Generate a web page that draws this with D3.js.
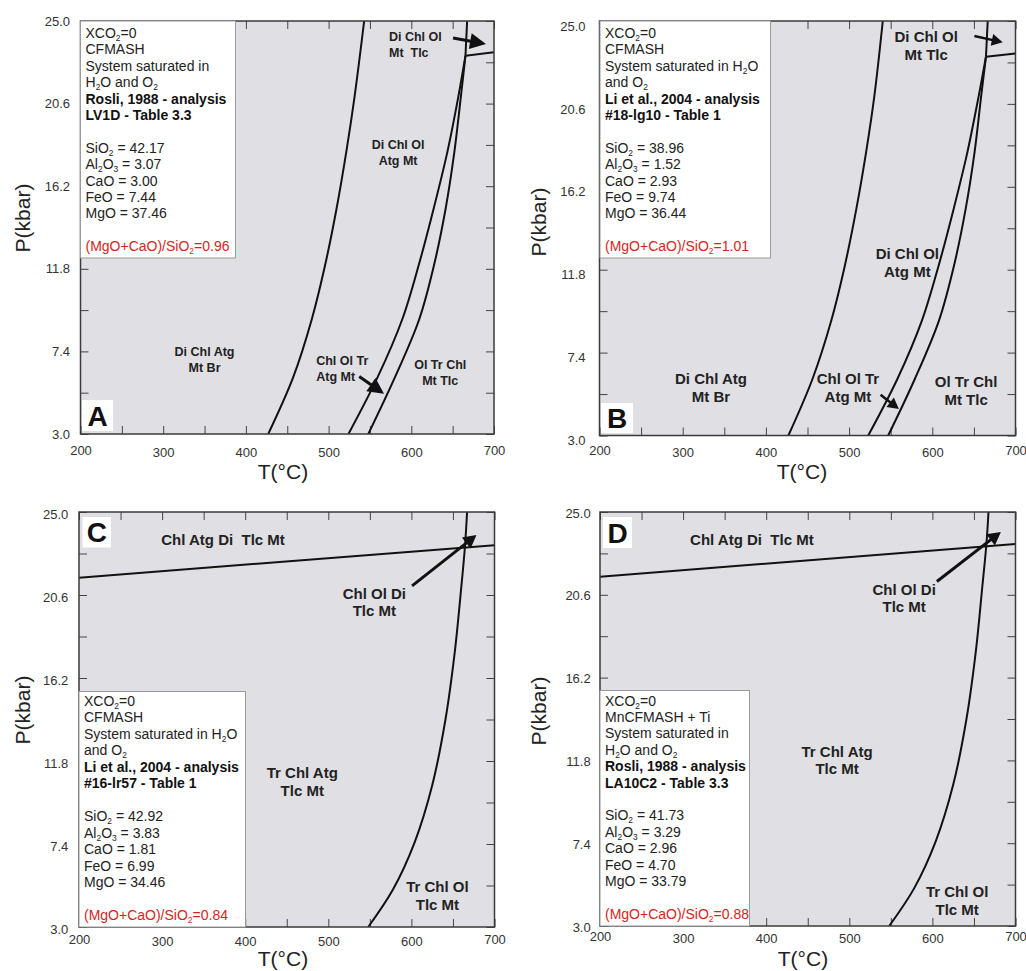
<!DOCTYPE html>
<html><head><meta charset="utf-8">
<script src="https://cdn.jsdelivr.net/npm/d3@7"></script>
<style>
body{margin:0;background:#fff;}
svg{display:block;}
text{font-family:"Liberation Sans",Arial,Helvetica,sans-serif;}
</style>
</head><body>
<svg id="chart" width="1026" height="971"></svg>
<script>
// ---------------- DATA ----------------
const tempTicks = [200, 300, 400, 500, 600, 700];
const tempMinor = [250, 350, 450, 550, 650];
const pressTicks = [3.0, 7.4, 11.8, 16.2, 20.6, 25.0];
const pressMinor = [5.2, 9.6, 14.0, 18.4, 22.8];
const oxideNames = ["SiO_2", "Al_2O_3", "CaO", "FeO", "MgO"];

// Panel A (T °C, P kbar)
const curveA1 = [[427,3],[457,6],[479.6,9.1],[495.8,12],[509.6,15],[521.3,18],[531.5,21],[543,25]];
const curveA2 = [[524,3],[559,6],[589,9.1],[609,12],[627,15],[643.5,18],[657,21],[665.5,23.15]];
const curveA3 = [[548,3],[580,6],[609.5,9.1],[627.5,12],[641.5,15],[652,18],[660,21],[665.5,23.15]];
const curveA4 = [[665.5,23.15],[667.5,25]];
const lineA = [[665.5,23.15],[700,23.33]];
const headerA = ["XCO_2=0","CFMASH","System saturated in","H_2O and O_2"];
const sourceA = ["Rosli, 1988 - analysis","LV1D - Table 3.3"];
const compA = [42.17, 3.07, 3.00, 7.44, 37.46];
const ratioA = 0.96;
const labelsA = [
  {lines:["Di Chl Ol","Mt  Tlc"], T:573, P:24.15, anchor:"start"},
  {lines:["Di Chl Ol","Atg Mt"], T:584, P:18.43, anchor:"middle"},
  {lines:["Di Chl Atg","Mt Br"], T:350, P:7.38, anchor:"middle"},
  {lines:["Chl Ol Tr","Atg Mt"], T:485, P:6.9, anchor:"start"},
  {lines:["Ol Tr Chl","Mt Tlc"], T:635, P:6.68, anchor:"middle"}
];
const arrowsA = [
  {from:[650.5,24.09], to:[690.3,23.77]},
  {from:[537,6.06], to:[567,5.14]}
];

// Panel B
const curveB1 = [[427,3],[456,6],[478.6,9.1],[494.8,12],[508.6,15],[520.3,18],[530.3,21],[540.5,25]];
const curveB2 = [[523,3],[558,6],[587.5,9.1],[607.5,12],[625.5,15],[642,18],[655.7,21],[664.5,23.1]];
const curveB3 = [[547,3],[579,6],[608,9.1],[626,12],[640,15],[650.7,18],[658.7,21],[664.5,23.1]];
const curveB4 = [[664.5,23.1],[666.6,25]];
const lineB = [[664.5,23.1],[700,23.27]];
const headerB = ["XCO_2=0","CFMASH","System saturated in H_2O","and O_2"];
const sourceB = ["Li et al., 2004 - analysis","#18-lg10 - Table 1"];
const compB = [38.96, 1.52, 2.93, 9.74, 36.44];
const ratioB = 1.01;
const labelsB = [
  {lines:["Di Chl Ol","Mt Tlc"], T:592.6, P:24.15, anchor:"middle"},
  {lines:["Di Chl Ol","Atg Mt"], T:570, P:12.63, anchor:"middle"},
  {lines:["Di Chl Atg","Mt Br"], T:334, P:5.99, anchor:"middle"},
  {lines:["Chl Ol Tr","Atg Mt"], T:498.6, P:6.0, anchor:"middle"},
  {lines:["Ol Tr Chl","Mt Tlc"], T:640.6, P:5.86, anchor:"middle"}
];
const arrowsB = [
  {from:[650.6,24.2], to:[684.6,23.87]},
  {from:[537.8,5.16], to:[559.8,4.4]}
];

// Panel C
const curveC = [[548,3],[578,5],[604,7.5],[625,10.5],[641,14],[652,17.5],[660,21],[664.5,23.2],[667,25]];
const lineC = [[200,21.52],[700,23.24]];
const headerC = ["XCO_2=0","CFMASH","System saturated in H_2O","and O_2"];
const sourceC = ["Li et al., 2004 - analysis","#16-lr57 - Table 1"];
const compC = [42.92, 3.83, 1.81, 6.99, 34.46];
const ratioC = 0.84;
const labelsC = [
  {lines:["Chl Atg Di  Tlc Mt"], T:299, P:23.52, anchor:"start"},
  {lines:["Chl Ol Di","Tlc Mt"], T:555.4, P:20.69, anchor:"middle"},
  {lines:["Tr Chl Atg","Tlc Mt"], T:468.7, P:11.16, anchor:"middle"},
  {lines:["Tr Chl Ol","Tlc Mt"], T:631.3, P:5.12, anchor:"middle"}
];
const arrowsC = [{from:[600.8,21.08], to:[678.3,23.78]}];

// Panel D
const curveD = [[548,3],[578,5],[604,7.5],[625,10.5],[641,14],[652,17.5],[660,21],[665,23.3],[667.5,25]];
const lineD = [[200,21.56],[700,23.3]];
const headerD = ["XCO_2=0","MnCFMASH + Ti","System saturated in","H_2O and O_2"];
const sourceD = ["Rosli, 1988 - analysis","LA10C2 - Table 3.3"];
const compD = [41.73, 3.29, 2.96, 4.70, 33.79];
const ratioD = 0.88;
const labelsD = [
  {lines:["Chl Atg Di  Tlc Mt"], T:308.4, P:23.53, anchor:"start"},
  {lines:["Chl Ol Di","Tlc Mt"], T:566, P:20.87, anchor:"middle"},
  {lines:["Tr Chl Atg","Tlc Mt"], T:485.3, P:12.26, anchor:"middle"},
  {lines:["Tr Chl Ol","Tlc Mt"], T:629.8, P:4.81, anchor:"middle"}
];
const arrowsD = [{from:[605.4,21.31], to:[682.4,23.94]}];

// ---------------- LAYOUT ----------------
const panels = [
  {id:"A", curves:[curveA1,curveA2,curveA3,curveA4], straight:[lineA], header:headerA, source:sourceA, comp:compA, ratio:ratioA, labels:labelsA, arrows:arrowsA,
   box:{x0:80.5,x1:494,y0:21,y1:434}, legend:{x:80.5,y:21,w:155,h:237,ty0:38,lh:16.4,fs:14},
   letter:{x:82,y:400,w:31,h:31,fs:28}, lfs:12.5, llh:16, head:[16,8,3], xPad:13.5, yPad:10.5, yShift:0, yTitle:[30,218], xTitle:[283,479]},
  {id:"B", curves:[curveB1,curveB2,curveB3,curveB4], straight:[lineB], header:headerB, source:sourceB, comp:compB, ratio:ratioB, labels:labelsB, arrows:arrowsB,
   box:{x0:599.5,x1:1015.5,y0:21,y1:435.5}, legend:{x:600,y:21,w:170.5,h:237,ty0:38,lh:16.4,fs:14},
   letter:{x:601,y:403,w:32,h:30,fs:28}, lfs:15, llh:18, head:[11,6,2.5], xPad:12, yPad:14, yShift:5, yTitle:[546,222], xTitle:[802,479]},
  {id:"C", curves:[curveC], straight:[lineC], header:headerC, source:sourceC, comp:compC, ratio:ratioC, labels:labelsC, arrows:arrowsC,
   box:{x0:79,x1:494.5,y0:512,y1:927}, legend:{x:79,y:691.5,w:166.5,h:235.5,ty0:705.5,lh:16.5,fs:14},
   letter:{x:82.5,y:517,w:28.5,h:30.5,fs:28}, lfs:15, llh:17.5, head:[13,7,3], xPad:10, yPad:10.7, yShift:2, yTitle:[30,710], xTitle:[283,966]},
  {id:"D", curves:[curveD], straight:[lineD], header:headerD, source:sourceD, comp:compD, ratio:ratioD, labels:labelsD, arrows:arrowsD,
   box:{x0:600,x1:1015.5,y0:512,y1:926}, legend:{x:600,y:690.5,w:149.5,h:235.5,ty0:705.5,lh:16.4,fs:14},
   letter:{x:603,y:517,w:29,h:31,fs:28}, lfs:15, llh:17.5, head:[13,7,3], xPad:8, yPad:9.3, yShift:1, yTitle:[546,711], xTitle:[803,966]}
];

const svg = d3.select("#chart");

function richText(sel, str, fs) {
  const parts = str.split(/_(\d)/);
  let shifted = 0;
  parts.forEach((s, i) => {
    if (i % 2 === 1) {
      sel.append("tspan").attr("dy", 3).attr("font-size", fs * 0.6).text(s);
      shifted = 3;
    } else {
      if (s === "") return;
      const t = sel.append("tspan").attr("font-size", fs).text(s);
      if (shifted) { t.attr("dy", -shifted); shifted = 0; }
    }
  });
}

function drawPanel(p) {
  const b = p.box;
  const g = svg.append("g").attr("class", "panel-" + p.id);
  const x = d3.scaleLinear().domain([200, 700]).range([b.x0, b.x1]);
  const y = d3.scaleLinear().domain([3, 25]).range([b.y1, b.y0]);

  g.append("rect").attr("x", b.x0).attr("y", b.y0).attr("width", b.x1 - b.x0).attr("height", b.y1 - b.y0)
    .attr("fill", "#e0dfe4");

  // ticks via d3 axes
  const allT = tempTicks.concat(tempMinor), allP = pressTicks.concat(pressMinor);
  const styleAxis = a => {
    a.select(".domain").remove();
    a.selectAll(".tick line").attr("stroke", "#444").attr("stroke-width", 1);
    a.selectAll(".tick text").attr("fill", "#333").attr("font-size", 13)
      .attr("font-family", '"Liberation Sans",Arial,sans-serif');
  };
  const fmtT = d => tempTicks.includes(d) ? String(d) : "";
  const fmtP = d => pressTicks.includes(d) ? d3.format(".1f")(d) : "";
  g.append("g").attr("transform", `translate(0,${b.y1})`)
    .call(d3.axisBottom(x).tickValues(allT).tickFormat(fmtT).tickSize(-8).tickPadding(p.xPad)).call(styleAxis)
    .call(a => a.selectAll(".tick text").filter(d => d === 200 || d === 700).attr("y", p.xPad - 2));
  g.append("g").attr("transform", `translate(0,${b.y0})`)
    .call(d3.axisTop(x).tickValues(allT).tickFormat("").tickSize(-8)).call(styleAxis);
  g.append("g").attr("transform", `translate(${b.x0},0)`)
    .call(d3.axisLeft(y).tickValues(allP).tickFormat(fmtP).tickSize(-8).tickPadding(p.yPad)).call(styleAxis)
    .call(a => a.selectAll(".tick text").attr("transform", `translate(0,${p.yShift})`).attr("dy", "0.32em"));
  g.append("g").attr("transform", `translate(${b.x1},0)`)
    .call(d3.axisRight(y).tickValues(allP).tickFormat("").tickSize(-8)).call(styleAxis);

  // boundary curves
  const curveGen = d3.line().x(d => x(d[0])).y(d => y(d[1])).curve(d3.curveCatmullRom.alpha(0.5));
  const lineGen = d3.line().x(d => x(d[0])).y(d => y(d[1]));
  const clipId = "clip" + p.id;
  svg.append("clipPath").attr("id", clipId).append("rect")
    .attr("x", b.x0).attr("y", b.y0).attr("width", b.x1 - b.x0).attr("height", b.y1 - b.y0);
  const cg = g.append("g").attr("clip-path", `url(#${clipId})`);
  p.curves.forEach(c => cg.append("path").attr("d", curveGen(c)).attr("fill", "none")
    .attr("stroke", "#111").attr("stroke-width", 2));
  p.straight.forEach(c => cg.append("path").attr("d", lineGen(c)).attr("fill", "none")
    .attr("stroke", "#111").attr("stroke-width", 2));

  // frame
  g.append("rect").attr("x", b.x0).attr("y", b.y0).attr("width", b.x1 - b.x0).attr("height", b.y1 - b.y0)
    .attr("fill", "none").attr("stroke", "#3a3a3a").attr("stroke-width", 1.5);

  // field labels
  p.labels.forEach(l => {
    const t = g.append("text").attr("x", x(l.T)).attr("y", y(l.P))
      .attr("text-anchor", l.anchor).attr("font-weight", "bold").attr("font-size", p.lfs)
      .attr("fill", "#222").style("white-space", "pre");
    l.lines.forEach((s, i) => t.append("tspan").attr("x", x(l.T)).attr("dy", i === 0 ? "0.35em" : p.llh).text(s));
  });

  // arrows
  const [hl, hw, sw] = p.head;
  p.arrows.forEach(a => {
    const x1 = x(a.from[0]), y1 = y(a.from[1]), x2 = x(a.to[0]), y2 = y(a.to[1]);
    const dx = x2 - x1, dy = y2 - y1, len = Math.hypot(dx, dy), ux = dx / len, uy = dy / len;
    const bx = x2 - ux * hl, by = y2 - uy * hl;
    g.append("line").attr("x1", x1).attr("y1", y1).attr("x2", bx + ux * 2).attr("y2", by + uy * 2)
      .attr("stroke", "#111").attr("stroke-width", sw);
    g.append("path").attr("d", `M${x2},${y2}L${bx - uy * hw},${by + ux * hw}L${bx + uy * hw},${by - ux * hw}Z`)
      .attr("fill", "#111");
  });

  // legend box
  const L = p.legend;
  g.append("rect").attr("x", L.x).attr("y", L.y).attr("width", L.w).attr("height", L.h)
    .attr("fill", "#fff").attr("stroke", "#9a9a9a").attr("stroke-width", 1);
  const lines = [];
  p.header.forEach(s => lines.push({s, bold:false, red:false}));
  p.source.forEach(s => lines.push({s, bold:true, red:false}));
  lines.push({s:"", bold:false, red:false});
  oxideNames.forEach((n, i) => lines.push({s: n + " = " + p.comp[i].toFixed(2), bold:false, red:false}));
  lines.push({s:"", bold:false, red:false});
  lines.push({s:"(MgO+CaO)/SiO_2=" + p.ratio.toFixed(2), bold:false, red:true});
  lines.forEach((ln, i) => {
    if (!ln.s) return;
    const t = g.append("text").attr("x", L.x + 5).attr("y", L.ty0 + i * L.lh)
      .attr("font-weight", ln.bold ? "bold" : "normal")
      .attr("fill", ln.red ? "#d4251c" : (ln.bold ? "#111" : "#222"));
    richText(t, ln.s, L.fs);
  });

  // panel letter
  const P = p.letter;
  g.append("rect").attr("x", P.x).attr("y", P.y).attr("width", P.w).attr("height", P.h).attr("fill", "#fff");
  g.append("text").attr("x", P.x + P.w / 2).attr("y", P.y + P.h / 2).attr("dy", "0.36em")
    .attr("text-anchor", "middle").attr("font-weight", "bold").attr("font-size", P.fs).attr("fill", "#111").text(p.id);

  // axis titles
  g.append("text").attr("transform", `translate(${p.yTitle[0]},${p.yTitle[1]}) rotate(-90)`)
    .attr("text-anchor", "middle").attr("font-size", 21).attr("fill", "#222").text("P(kbar)");
  g.append("text").attr("x", p.xTitle[0]).attr("y", p.xTitle[1])
    .attr("text-anchor", "middle").attr("font-size", 21).attr("fill", "#222").text("T(°C)");
}

panels.forEach(drawPanel);
</script>
</body></html>
